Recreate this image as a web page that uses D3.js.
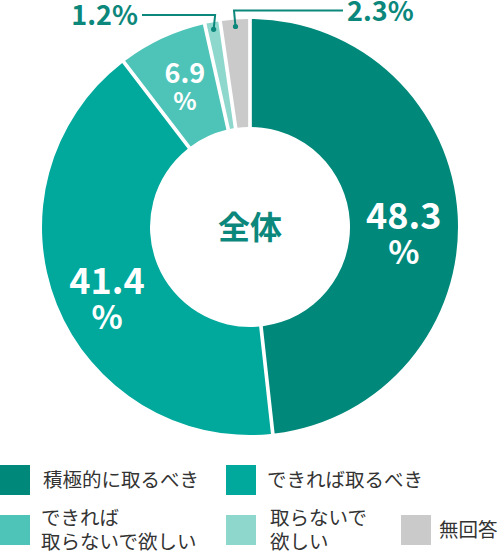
<!DOCTYPE html>
<html>
<head>
<meta charset="utf-8">
<script src="https://cdn.jsdelivr.net/npm/d3@7"></script>
<style>
  body { margin: 0; background: #fff; }
  svg { display: block; font-family: "Noto Sans CJK JP", "Noto Sans", sans-serif; }
</style>
</head>
<body>
<svg id="chart" width="500" height="552"></svg>
<script>
// data
var categories = ['積極的に取るべき', 'できれば取るべき', 'できれば\n取らないで欲しい', '取らないで\n欲しい', '無回答'];
var values = [48.3, 41.4, 6.9, 1.2, 2.3];
var valueLabels = ['48.3', '41.4', '6.9', '1.2', '2.3'];
var colors = ['#00897b', '#00a99c', '#4ec4b9', '#8dd7cd', '#cacaca'];
var centerTitle = '全体';

var svg = d3.select('#chart');
var cx = 250, cy = 227;
var rInner = 100, rOuter = 208;

var pie = d3.pie().sort(null).value(function(d) { return d; });
var arcs = pie(values);

var arc = d3.arc().innerRadius(rInner).outerRadius(rOuter).padAngle(0.016);
var labelArc = d3.arc().innerRadius(154).outerRadius(154);
var dotArc = d3.arc().innerRadius(201).outerRadius(201);

var g = svg.append('g').attr('transform', 'translate(' + cx + ',' + cy + ')');

g.selectAll('path.slice')
  .data(arcs)
  .enter().append('path')
  .attr('class', 'slice')
  .attr('d', arc)
  .attr('fill', function(d, i) { return colors[i]; });

// labels inside the ring (big slices), two lines: number then %
arcs.forEach(function(d, i) {
  if (d.value < 5) return;
  var c = labelArc.centroid(d);
  var big = d.value > 10;
  var fs = big ? 36 : 27;
  var l1 = big ? 10 : -4, l2 = big ? 45 : 23;
  g.append('text')
    .attr('x', c[0]).attr('y', c[1] + l1)
    .attr('text-anchor', 'middle')
    .attr('fill', '#fff')
    .attr('font-weight', 700)
    .attr('font-size', fs)
    .text(valueLabels[i]);
  g.append('text')
    .attr('x', c[0]).attr('y', c[1] + l2)
    .attr('text-anchor', 'middle')
    .attr('fill', '#fff')
    .attr('font-weight', 700)
    .attr('font-size', fs * 0.9)
    .text('%');
});

// leader lines for the small slices
var outside = { 3: { side: -1, y: 15, end: 142 }, 4: { side: 1, y: 10.5, end: 343 } };
arcs.forEach(function(d, i) {
  var o = outside[i];
  if (!o) return;
  var p = dotArc.centroid(d);
  var ly = o.y - cy, lx = o.end - cx;
  var line = d3.line();
  g.append('path')
    .attr('d', line([[p[0], p[1]], [p[0] - o.side * 1.5, ly], [lx, ly]]))
    .attr('fill', 'none')
    .attr('stroke', '#0b877b')
    .attr('stroke-width', 2);
  g.append('circle')
    .attr('cx', p[0]).attr('cy', p[1]).attr('r', 2.6)
    .attr('fill', '#0b877b');
  g.append('text')
    .attr('x', lx + o.side * 4)
    .attr('y', ly + 10)
    .attr('text-anchor', o.side < 0 ? 'end' : 'start')
    .attr('fill', '#0b877b')
    .attr('font-weight', 700)
    .attr('font-size', 27)
    .text(valueLabels[i] + '%');
});

g.append('text')
  .attr('text-anchor', 'middle')
  .attr('y', 12)
  .attr('fill', '#0b877b')
  .attr('font-weight', 700)
  .attr('font-size', 32)
  .text(centerTitle);

// legend
var legendPos = [[0, 465], [226, 465], [0, 515], [226, 515], [401, 515]];
var legendTextX = [43, 41, 41, 44, 38];
var legend = svg.append('g');
categories.forEach(function(name, i) {
  var pos = legendPos[i];
  legend.append('rect')
    .attr('x', pos[0]).attr('y', pos[1])
    .attr('width', 30).attr('height', 30)
    .attr('fill', colors[i]);
  var lines = name.split('\n');
  var t = legend.append('text')
    .attr('fill', '#333')
    .attr('font-size', 19.5);
  var tx = pos[0] + legendTextX[i];
  lines.forEach(function(s, k) {
    var ty = lines.length == 1 ? pos[1] + 22 : pos[1] + 10 + k * 24;
    t.append('tspan').attr('x', tx).attr('y', ty).text(s);
  });
});
</script>
</body>
</html>
